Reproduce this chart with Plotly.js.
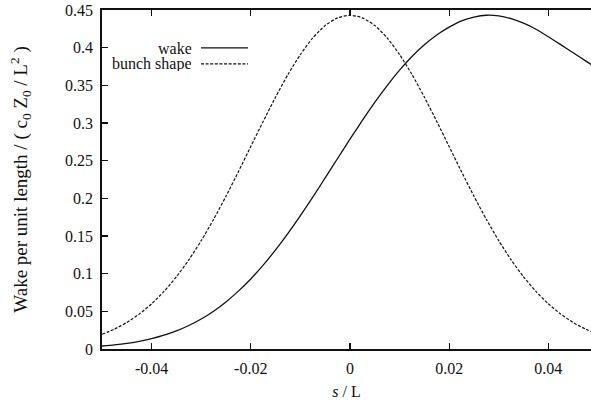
<!DOCTYPE html>
<html>
<head>
<meta charset="utf-8">
<script src="https://cdn.plot.ly/plotly-3.0.1.min.js"></script>
<style>
  html, body { margin: 0; padding: 0; background: #fff; }
  #chart { width: 591px; height: 402px; }
</style>
</head>
<body>
<div id="chart"></div>
<script>
// Longitudinal position s / L
const sPos = [
  -0.05, -0.0475, -0.045, -0.0425, -0.04, -0.0375, -0.035, -0.0325, -0.03, -0.0275,
  -0.025, -0.0225, -0.02, -0.0175, -0.015, -0.0125, -0.01, -0.0075, -0.005, -0.0025,
  0, 0.0025, 0.005, 0.0075, 0.01, 0.0125, 0.015, 0.0175, 0.02, 0.0225,
  0.025, 0.0275, 0.03, 0.0325, 0.035, 0.0375, 0.04, 0.0425, 0.045, 0.0475, 0.05
];

// Wake per unit length
const wakeVals = [
  0.0040, 0.0054, 0.0074, 0.0102, 0.0137, 0.0183, 0.0240, 0.0312, 0.0398, 0.0502,
  0.0625, 0.0768, 0.0930, 0.1113, 0.1316, 0.1535, 0.1770, 0.2017, 0.2271, 0.2529,
  0.2785, 0.3035, 0.3274, 0.3497, 0.3701, 0.3883, 0.4039, 0.4169, 0.4272, 0.4355,
  0.4405, 0.4430, 0.4422, 0.4385, 0.4325, 0.4245, 0.4145, 0.4040, 0.3932, 0.3825, 0.3718
];

// Bunch shape (same vertical scale)
const bunchVals = [
  0.0195, 0.0264, 0.0352, 0.0463, 0.0600, 0.0764, 0.0958, 0.1183, 0.1438, 0.1721,
  0.2028, 0.2353, 0.2687, 0.3021, 0.3344, 0.3644, 0.3909, 0.4129, 0.4294, 0.4396,
  0.4430, 0.4396, 0.4294, 0.4129, 0.3909, 0.3644, 0.3344, 0.3021, 0.2687, 0.2353,
  0.2028, 0.1721, 0.1438, 0.1183, 0.0958, 0.0764, 0.0600, 0.0463, 0.0352, 0.0264, 0.0195
];

const xTickVals = [-0.04, -0.02, 0, 0.02, 0.04];
const xTickText = ["-0.04", "-0.02", "0", "0.02", "0.04"];
const yTickVals = [0, 0.05, 0.1, 0.15, 0.2, 0.25, 0.3, 0.35, 0.4, 0.45];
const yTickText = ["0", "0.05", "0.1", "0.15", "0.2", "0.25", "0.3", "0.35", "0.4", "0.45"];

const seriesNames = ["wake", "bunch shape"];

const FONT = 'Liberation Serif, Times New Roman, serif';
const INK = '#111';
const bunchDash = '3px,1.6px';

const traces = [
  {
    x: sPos, y: wakeVals, name: seriesNames[0], type: 'scatter', mode: 'lines',
    line: { color: INK, width: 1.3, shape: 'spline', smoothing: 0.6 },
    showlegend: false, hoverinfo: 'skip'
  },
  {
    x: sPos, y: bunchVals, name: seriesNames[1], type: 'scatter', mode: 'lines',
    line: { color: INK, width: 1.2, dash: bunchDash, shape: 'spline', smoothing: 0.6 },
    showlegend: false, hoverinfo: 'skip'
  }
];

// Key in the upper-left corner: label text right-aligned, sample line to its right
const keyRows = [0.888, 0.841];
const keyTextX = 0.186;
const keySample = [0.2025, 0.2986];

const layout = {
  width: 591, height: 402,
  margin: { l: 102, r: 0, t: 10, b: 53, pad: 0 },
  paper_bgcolor: '#fff', plot_bgcolor: '#fff',
  font: { family: FONT, size: 16, color: INK },
  xaxis: {
    range: [-0.05, 0.0486],
    tickvals: xTickVals, ticktext: xTickText,
    ticks: 'inside', ticklen: 6, tickwidth: 1.3, tickcolor: INK,
    showline: true, linecolor: INK, linewidth: 1.8, mirror: 'ticks',
    showgrid: false, zeroline: false,
    ticklabelstandoff: 4,
    tickfont: { family: FONT, size: 16, color: INK },
    title: { text: '<i>s</i> / L', font: { family: FONT, size: 16, color: INK }, standoff: 10 }
  },
  yaxis: {
    range: [0, 0.45],
    tickvals: yTickVals, ticktext: yTickText,
    ticks: 'inside', ticklen: 6, tickwidth: 1.3, tickcolor: INK,
    showline: true, linecolor: INK, linewidth: 1.8, mirror: false,
    showgrid: false, zeroline: false,
    ticklabelstandoff: 4,
    tickfont: { family: FONT, size: 16, color: INK },
    title: {
      text: 'Wake per unit length / ( c<sub>0</sub> Z<sub>0</sub> / L<sup>2</sup> )',
      font: { family: FONT, size: 19, color: INK }, standoff: 32
    }
  },
  showlegend: false,
  annotations: seriesNames.map((nm, i) => ({
    xref: 'paper', yref: 'paper', x: keyTextX, y: keyRows[i],
    xanchor: 'right', yanchor: 'middle', text: nm, showarrow: false,
    height: 14, borderpad: 0,
    font: { family: FONT, size: 16, color: INK }
  })),
  shapes: seriesNames.map((nm, i) => ({
    type: 'line', xref: 'paper', yref: 'paper',
    x0: keySample[0], x1: keySample[1], y0: keyRows[i], y1: keyRows[i],
    line: { color: INK, width: i === 0 ? 1.3 : 1.2, dash: i === 0 ? 'solid' : bunchDash }
  }))
};

Plotly.newPlot('chart', traces, layout, { staticPlot: true, displayModeBar: false });
</script>
</body>
</html>
